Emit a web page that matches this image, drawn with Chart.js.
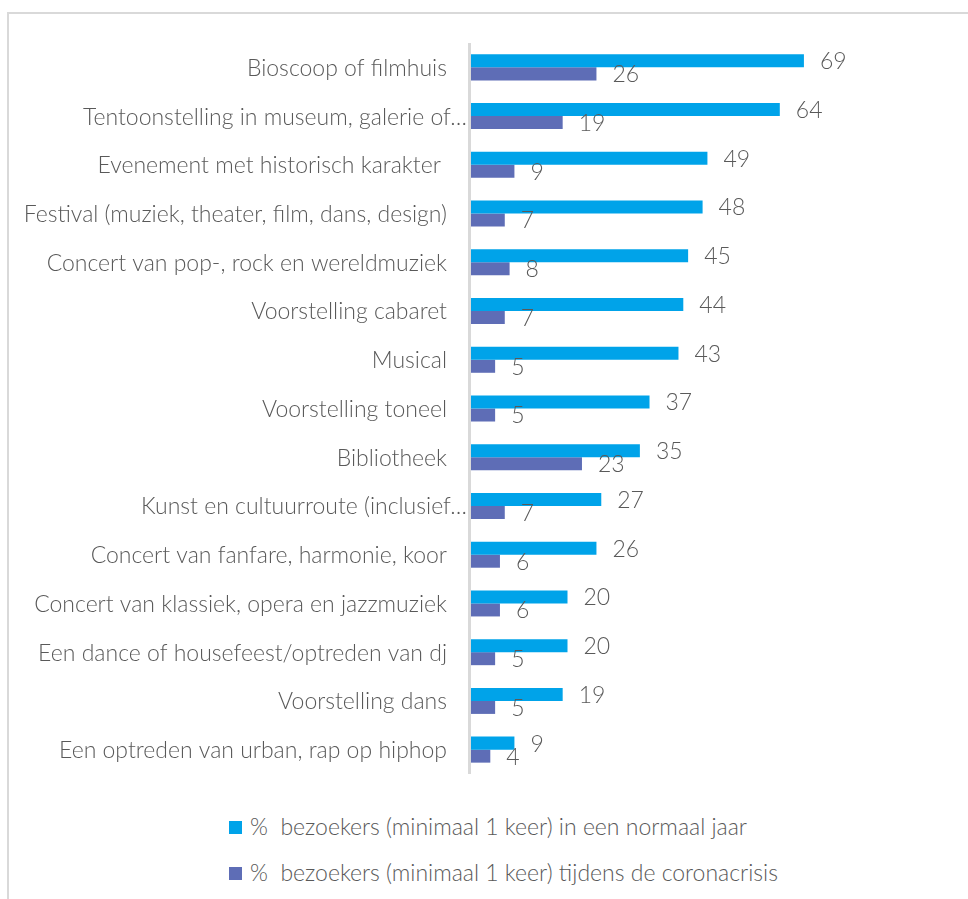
<!DOCTYPE html>
<html lang="nl">
<head>
    <meta charset="UTF-8">
    <title>Cultuurbezoek</title>
    <script src="https://cdn.jsdelivr.net/npm/chart.js"></script>
    <style>
        html, body { margin: 0; padding: 0; overflow: hidden; background: #fff; }
        .frame {
            position: absolute; left: 7px; top: 12px;
            width: 1000px; height: 1000px;
            border: 2px solid #d9d9d9; box-sizing: border-box;
        }
        .chart-box { position: absolute; left: 0; top: 0; width: 968px; height: 800px; }
        .legend {
            position: absolute; left: 229px; top: 813px;
            font-family: 'Lato', sans-serif; font-weight: 300; font-size: 23px; color: #595959;
        }
        .legend div { height: 46px; line-height: 27px; white-space: pre; }
        .legend span.box { display: inline-block; width: 13px; height: 13px; margin-right: 8px; vertical-align: 1px; }
    </style>
</head>
<body>
    <div class="frame"></div>
    <div class="chart-box"><canvas id="chart"></canvas></div>
    <div class="legend" id="legend"></div>

    <script>
        const categories = [
            'Bioscoop of filmhuis',
            'Tentoonstelling in museum, galerie of…',
            'Evenement met historisch karakter ',
            'Festival (muziek, theater, film, dans, design)',
            'Concert van pop-, rock en wereldmuziek',
            'Voorstelling cabaret',
            'Musical',
            'Voorstelling toneel',
            'Bibliotheek',
            'Kunst en cultuurroute (inclusief…',
            'Concert van fanfare, harmonie, koor',
            'Concert van klassiek, opera en jazzmuziek',
            'Een dance of housefeest/optreden van dj',
            'Voorstelling dans',
            'Een optreden van urban, rap op hiphop'
        ];
        const normaalJaar = [69, 64, 49, 48, 45, 44, 43, 37, 35, 27, 26, 20, 20, 19, 9];
        const coronacrisis = [26, 19, 9, 7, 8, 7, 5, 5, 23, 7, 6, 6, 5, 5, 4];
        const seriesNames = [
            '%  bezoekers (minimaal 1 keer) in een normaal jaar',
            '%  bezoekers (minimaal 1 keer) tijdens de coronacrisis'
        ];
        const colors = ['#00a3e9', '#5e6db6'];

        const FONT = '300 23px Lato, sans-serif';
        const TEXT = '#595959';

        // categorie-labels, aslijn en waarden zelf tekenen
        const extras = {
            id: 'extras',
            beforeDatasetsDraw(chart) {
                const ctx = chart.ctx;
                const area = chart.chartArea;
                const y = chart.scales.y;
                ctx.save();
                ctx.fillStyle = '#d9d9d9';
                ctx.fillRect(area.left - 3, area.top, 3, area.bottom - area.top);
                ctx.font = FONT;
                ctx.fillStyle = TEXT;
                ctx.textAlign = 'right';
                ctx.textBaseline = 'middle';
                categories.forEach((c, i) => {
                    const x = c.endsWith('…') ? area.left - 4 : area.left - 24;
                    ctx.fillText(c, x, y.getPixelForTick(i) + 1);
                });
                ctx.restore();
            },
            afterDatasetsDraw(chart) {
                const ctx = chart.ctx;
                ctx.save();
                ctx.font = FONT;
                ctx.fillStyle = TEXT;
                ctx.textAlign = 'left';
                ctx.textBaseline = 'middle';
                chart.data.datasets.forEach((ds, d) => {
                    chart.getDatasetMeta(d).data.forEach((bar, i) => {
                        ctx.fillText(ds.data[i], bar.x + 16, bar.y + 1);
                    });
                });
                ctx.restore();
            }
        };

        new Chart(document.getElementById('chart'), {
            type: 'bar',
            data: {
                labels: categories,
                datasets: [
                    { label: seriesNames[0], data: normaalJaar, backgroundColor: colors[0] },
                    { label: seriesNames[1], data: coronacrisis, backgroundColor: colors[1] }
                ]
            },
            options: {
                indexAxis: 'y',
                responsive: true,
                maintainAspectRatio: false,
                animation: false,
                categoryPercentage: 0.534,
                barPercentage: 1,
                layout: { padding: { left: 0, right: 111, top: 43, bottom: 26 } },
                plugins: {
                    legend: { display: false },
                    tooltip: { enabled: false }
                },
                scales: {
                    x: { display: false, min: 0, max: 80 },
                    y: {
                        grid: { display: false },
                        border: { display: false },
                        ticks: { display: false },
                        afterFit(scale) { scale.width = 471; }
                    }
                }
            },
            plugins: [extras]
        });

        const legend = document.getElementById('legend');
        seriesNames.forEach((name, i) => {
            const row = document.createElement('div');
            row.innerHTML = '<span class="box" style="background:' + colors[i] + '"></span>' + name;
            legend.appendChild(row);
        });
    </script>
</body>
</html>
